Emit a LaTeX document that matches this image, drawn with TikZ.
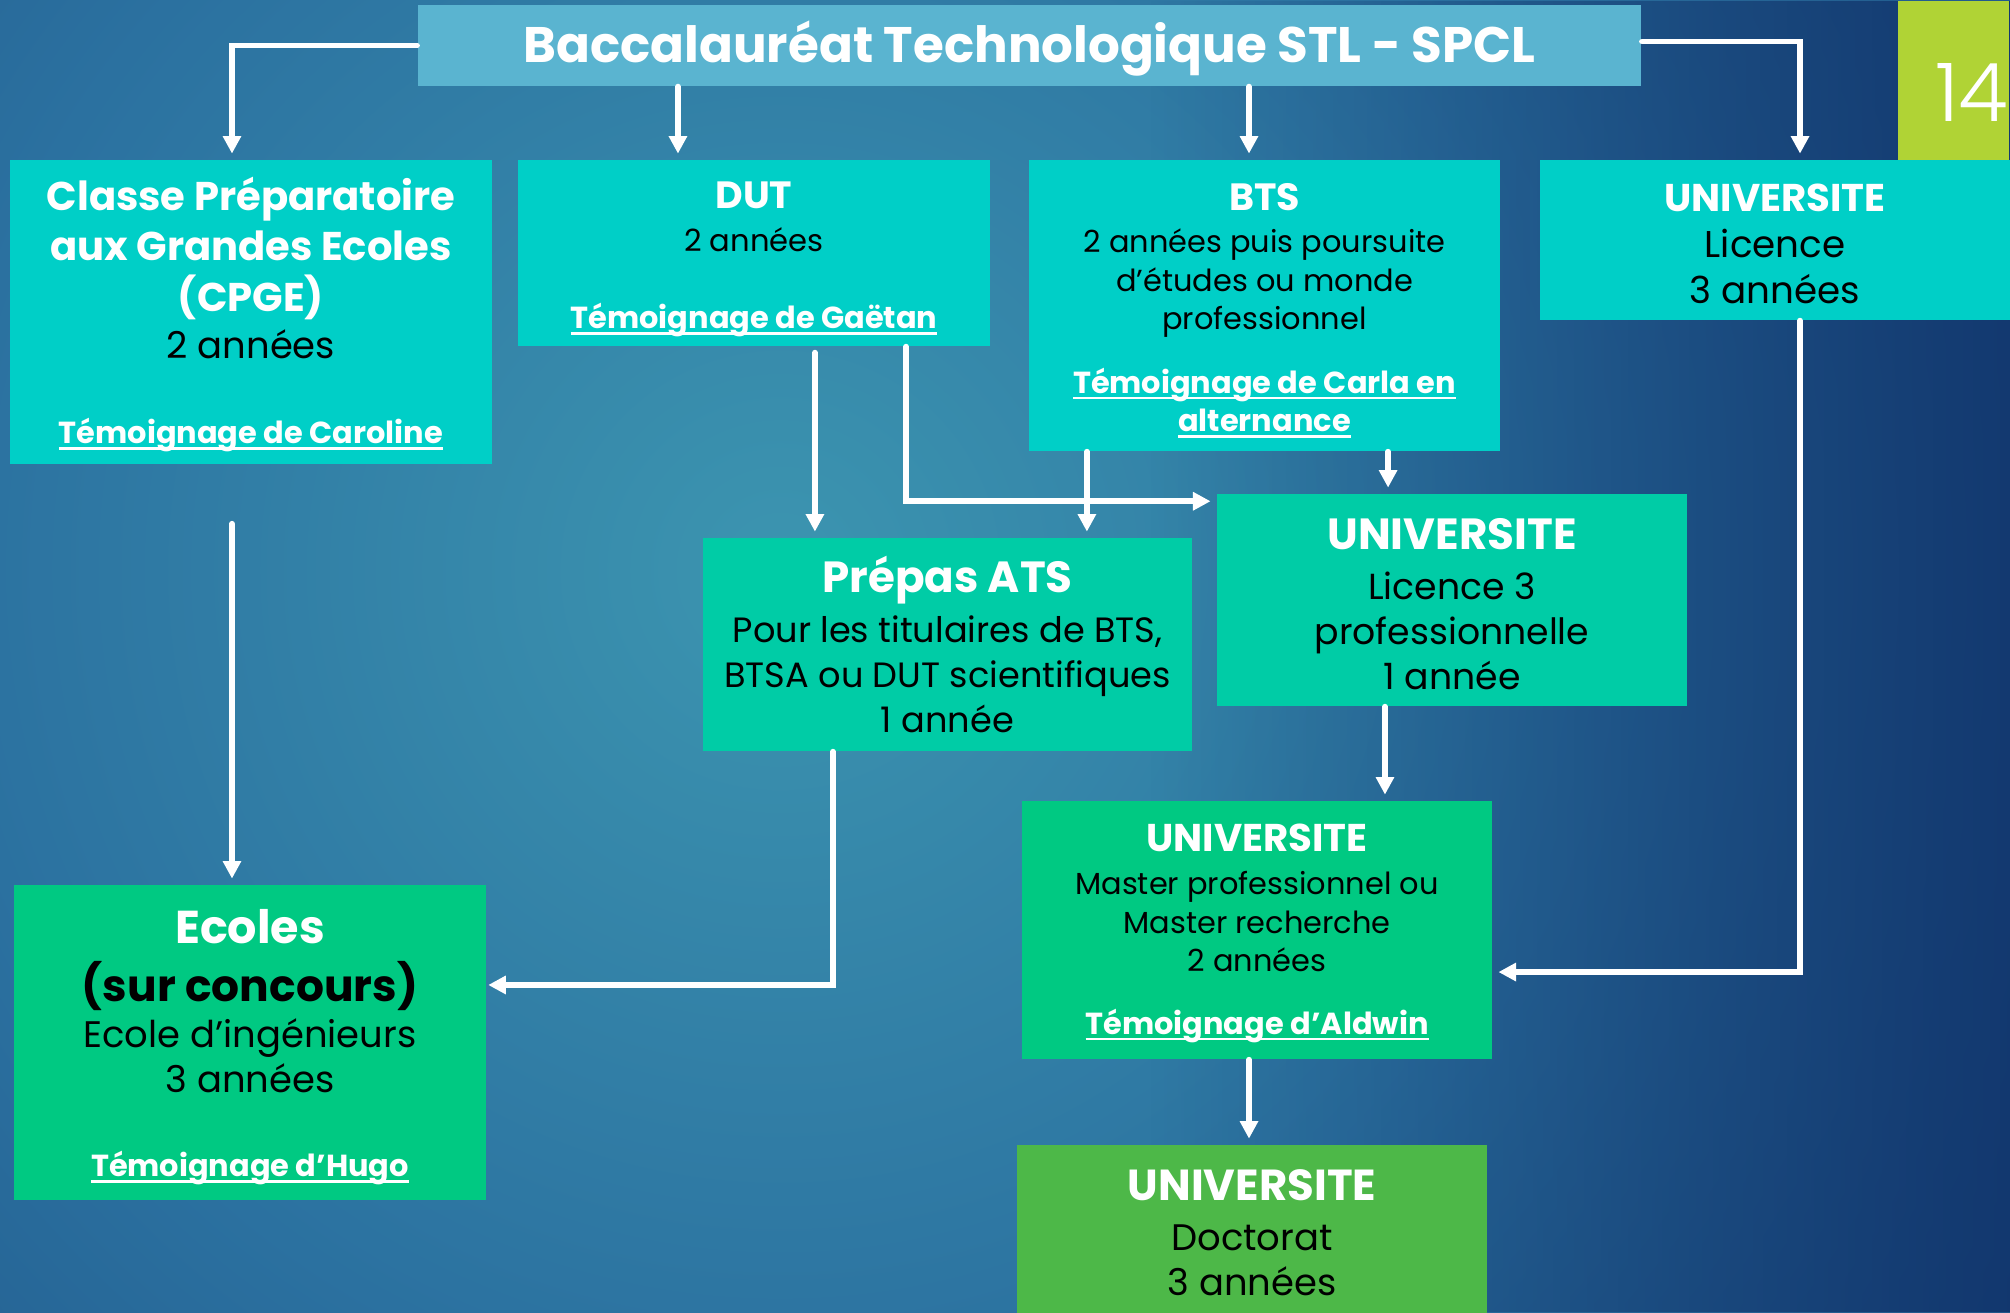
\documentclass[tikz,border=0pt]{standalone}
\usepackage{fontspec}
\setmainfont{Poppins}
\newfontfamily\minceur{Poppins Light}
\usetikzlibrary{arrows.meta,calc,fadings}

\definecolor{bgin}{HTML}{3C95B0}
\definecolor{bgmid}{HTML}{2B71A0}
\definecolor{bgout}{HTML}{163F76}
\definecolor{bgdark}{HTML}{0F3068}
\definecolor{ciel}{HTML}{5AB4D0}
\definecolor{turq}{HTML}{00CFC7}
\definecolor{aqua}{HTML}{00CCA6}
\definecolor{mint}{HTML}{00C982}
\definecolor{leaf}{HTML}{4DB848}
\definecolor{lime}{HTML}{B0D335}

\pgfdeclareradialshading{fond}{\pgfpoint{0bp}{0bp}}{color(0bp)=(bgin); color(8bp)=(bgmid); color(19bp)=(bgout); color(50bp)=(bgout)}

\newcommand\titre[2]{{\fontsize{#1}{#1}\selectfont\bfseries\color{white}#2}}
\newcommand\lien[1]{{\fontsize{8.65}{8.65}\selectfont\bfseries\color{white}\setbox0\hbox{#1}\rlap{\rule[-1.7pt]{\wd0}{0.8pt}}\box0}}

\tikzset{
  box/.style={inner sep=0pt, align=center, minimum width=4.7cm},
  arr/.style={white, line width=1.7pt, line cap=round, -{Triangle[width=5pt,length=5pt]}, shorten >=1.6pt},
}

\begin{document}
\begin{tikzpicture}[x=0.01cm, y=-0.01cm]
\useasboundingbox (0,0) rectangle (2010,1312);
\clip (0,0) rectangle (2010,1312);
\shade[shading=fond] (780,570) circle (2600);
\fill[bgdark, path fading=west, opacity=0.8] (1150,0) rectangle (2010,1312);

% page tab
\node[fill=lime, inner sep=0pt, minimum width=1.11cm, minimum height=1.6cm, anchor=north east] (tab) at (2010,0) {};
\node[white, font=\minceur\fontsize{23}{23}\selectfont] (num) at ([xshift=0.18cm,yshift=-0.12cm]tab.center) {14};

% boxes
\node[box, fill=ciel, minimum width=12.23cm, minimum height=0.81cm] (bac) at (1029.5,45.5) {\rule{0pt}{13.3pt}\titre{14.2}{Baccalauréat Technologique STL - SPCL}};

\node[box, fill=turq, minimum width=4.82cm, minimum height=3.04cm, font=\fontsize{10.5}{12}\selectfont] (cpge) at (251,312)
  {\rule{0pt}{10.9pt}\titre{11.4}{Classe Préparatoire}\\[2.2pt] \titre{11.4}{aux Grandes Ecoles}\\[2.6pt] \titre{11.4}{(CPGE)}\\[1.5pt] 2 années\\[12.1pt] \lien{Témoignage de Caroline}};

\node[box, fill=turq, minimum width=4.72cm, minimum height=1.86cm, font=\fontsize{8.7}{12}\selectfont] (dut) at (754,253)
  {\rule{0pt}{11.2pt}\titre{10.8}{DUT}\\[0.4pt] 2 années\\[9.9pt] \lien{Témoignage de Gaëtan}};

\node[box, fill=turq, minimum width=4.71cm, minimum height=2.91cm, font=\fontsize{8.65}{10.9}\selectfont] (bts) at (1264.5,305.5)
  {\rule{0pt}{10.5pt}\titre{10.8}{BTS}\\[1.2pt] 2 années puis poursuite\\ d’études ou monde\\ professionnel\\[7.3pt] \lien{Témoignage de Carla en}\\ \lien{alternance}};

\node[box, fill=turq, minimum height=1.6cm, font=\fontsize{10.6}{13.1}\selectfont] (lic) at (1775,240)
  {\rule{0pt}{9.9pt}\titre{11}{UNIVERSITE}\\ Licence\\ 3 années};

\node[box, fill=aqua, minimum width=4.89cm, minimum height=2.13cm, font=\fontsize{10}{12.8}\selectfont] (ats) at (947.5,644.5)
  {\titre{12.4}{Prépas ATS}\\[1.4pt] Pour les titulaires de BTS,\\ BTSA ou DUT scientifiques\\ 1 année};

\node[box, fill=aqua, minimum height=2.12cm, font=\fontsize{10.3}{12.8}\selectfont] (lpro) at (1452,600)
  {\rule{0pt}{11.3pt}\titre{12.4}{UNIVERSITE}\\[1.5pt] Licence 3\\ professionnelle\\ 1 année};

\node[box, fill=mint, minimum height=2.58cm, font=\fontsize{8.65}{10.9}\selectfont] (master) at (1257,930)
  {\rule{0pt}{9.9pt}\titre{11}{UNIVERSITE}\\[1.3pt] Master professionnel ou\\ Master recherche\\ 2 années\\[7pt] \lien{Témoignage d’Aldwin}};

\node[box, fill=mint, minimum width=4.72cm, minimum height=3.15cm, font=\fontsize{10.5}{12.8}\selectfont] (ecoles) at (250,1042.5)
  {\rule{0pt}{12.3pt}\titre{13.1}{Ecoles}\\[3.7pt] {\fontsize{12.5}{12.5}\selectfont\bfseries (sur concours)}\\[0.4pt] Ecole d’ingénieurs\\ 3 années\\[11pt] \lien{Témoignage d’Hugo}};

\node[box, fill=leaf, minimum height=1.76cm, font=\fontsize{10.5}{12.8}\selectfont] (doct) at (1252,1233)
  {\titre{12.35}{UNIVERSITE}\\[1.4pt] Doctorat\\ 3 années};

% arrows
\draw[arr] (bac.west) -| ([xshift=-0.19cm]cpge.north);
\draw[arr] ([xshift=-0.76cm]dut.north |- bac.south) -- ([xshift=-0.76cm]dut.north);
\draw[arr] ([xshift=-0.155cm]bts.north |- bac.south) -- ([xshift=-0.155cm]bts.north);
\draw[arr] ([yshift=0.04cm]bac.east) -| ([xshift=0.25cm]lic.north);
\draw[arr] ([shift={(-0.19cm,-0.59cm)}]cpge.south) -- ([xshift=-0.19cm]cpge.south |- ecoles.north);
\draw[arr] ([xshift=-1.325cm,yshift=-0.06cm]ats.north |- dut.south) -- ([xshift=-1.325cm]ats.north);
\draw[arr] ([xshift=1.52cm]dut.south) |- ([yshift=-0.08cm]lpro.north west);
\draw[arr] ([xshift=-1.775cm]bts.south) -- ([xshift=-1.775cm]bts.south |- ats.north);
\draw[arr] ([xshift=1.235cm]bts.south) -- ([xshift=1.235cm]bts.south |- lpro.north);
\draw[arr] ([xshift=0.25cm]lic.south) |- ([yshift=-0.42cm]master.east);
\draw[arr, shorten >=0.4pt] ([xshift=-1.145cm]ats.south) |- ([yshift=0.575cm]ecoles.east);
\draw[arr] ([xshift=-0.67cm]lpro.south) -- ([xshift=-0.67cm]lpro.south |- master.north);
\draw[arr] ([xshift=-0.08cm]master.south) -- ([xshift=-0.08cm]master.south |- doct.north);
\end{tikzpicture}
\end{document}
